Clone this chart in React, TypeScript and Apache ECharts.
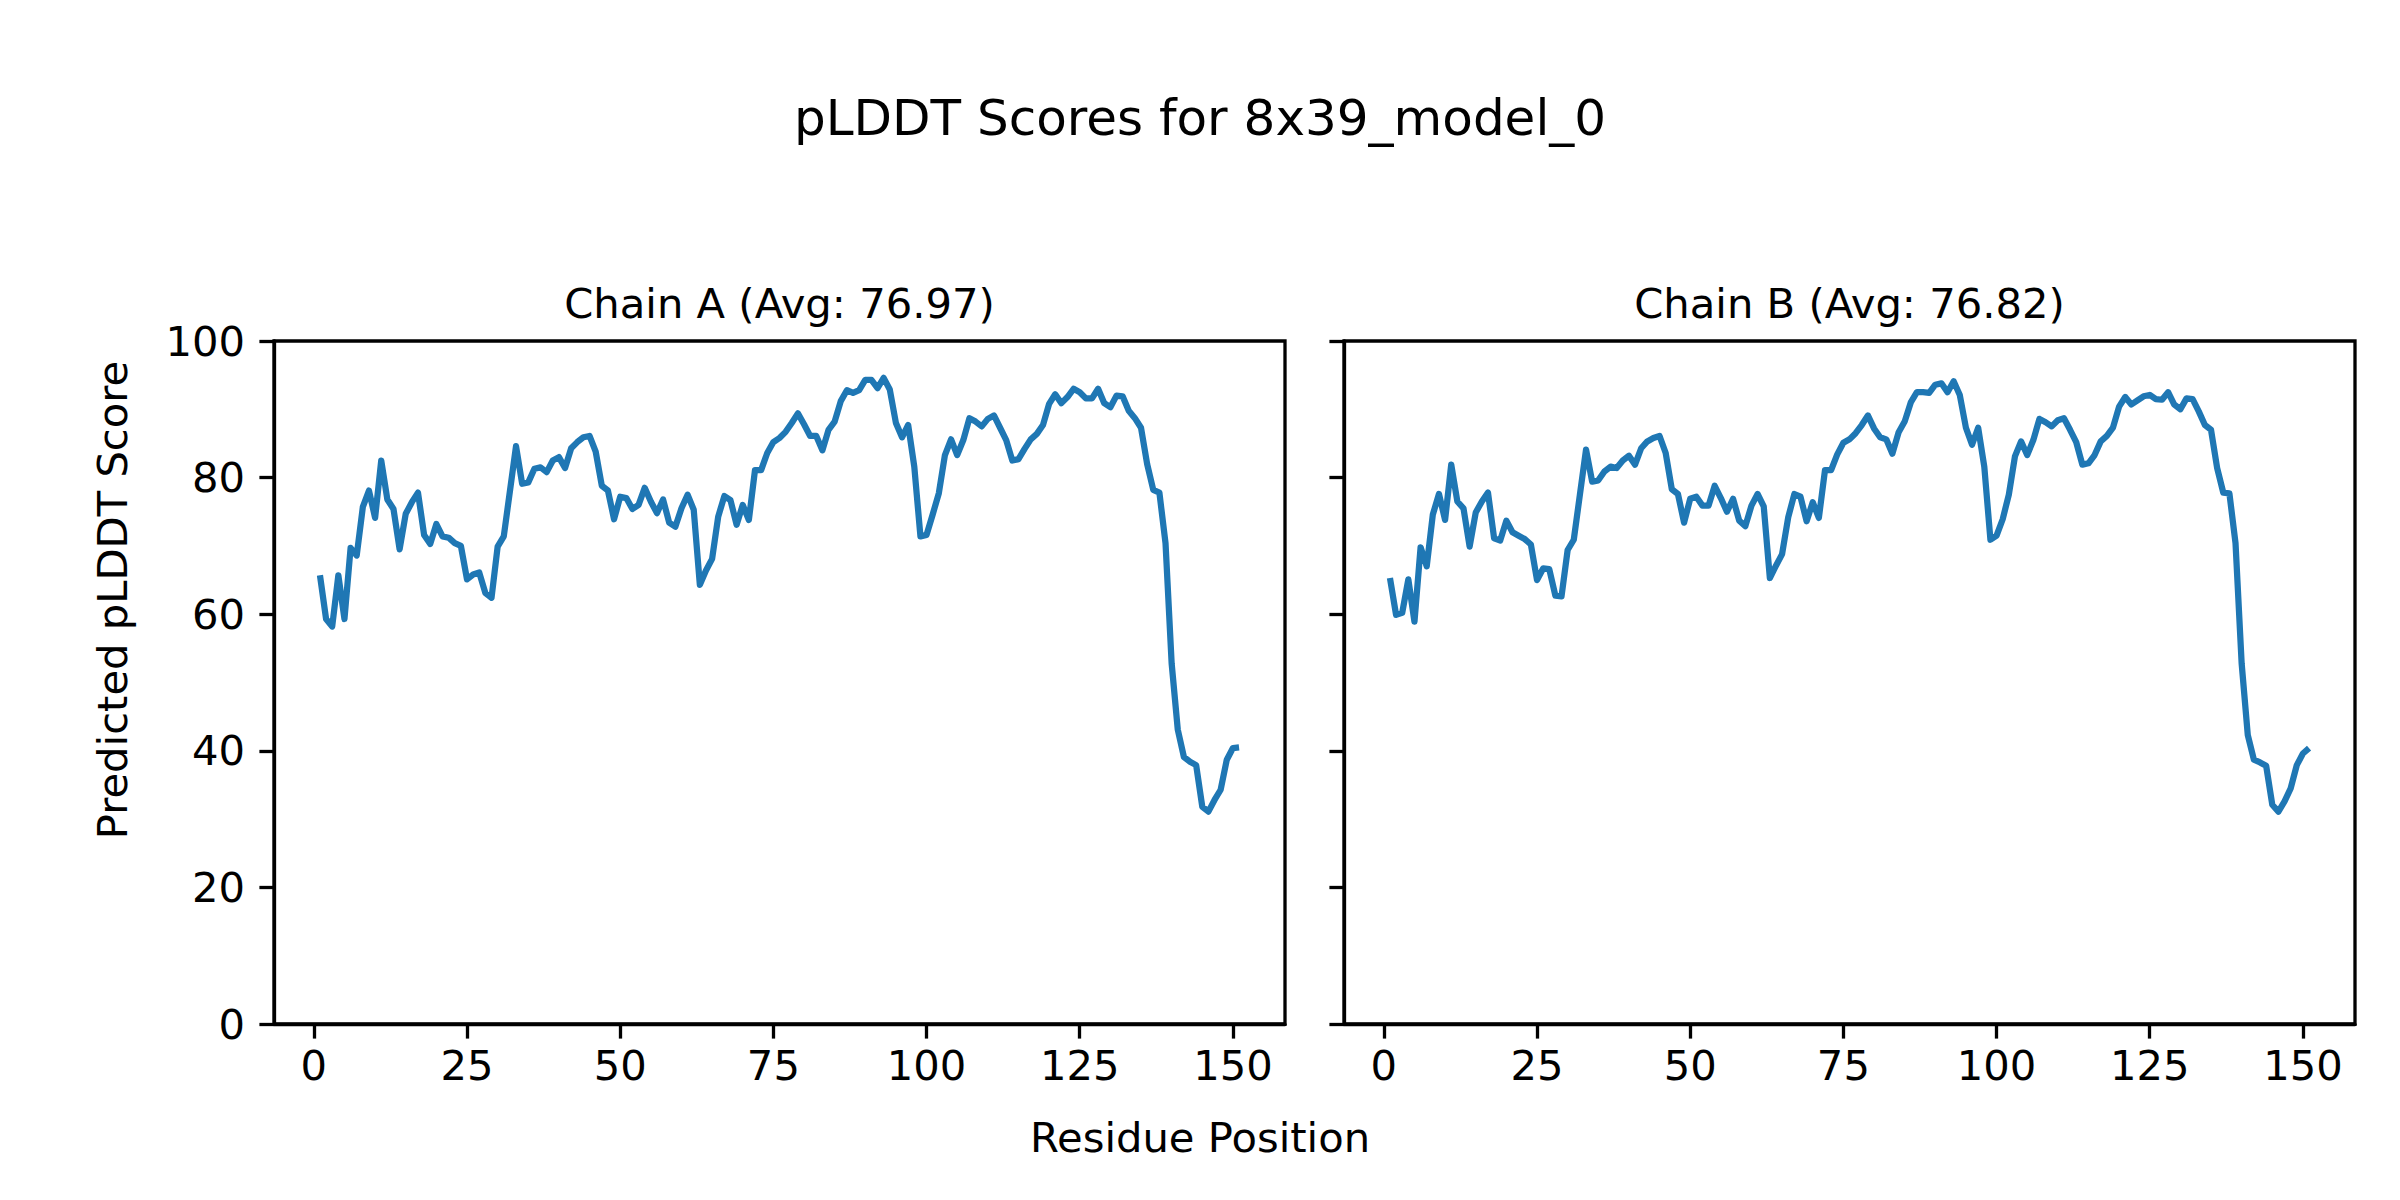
import React, { useEffect, useRef } from "react";
import * as echarts from "echarts";

const chainA: number[] = [
  65.7, 59.3, 58.2, 65.7, 59.3, 69.7, 68.6, 75.7, 78.1, 74.1,
  82.5, 76.8, 75.4, 69.5, 74.7, 76.4, 77.8, 71.6, 70.3, 73.2,
  71.4, 71.2, 70.4, 70.0, 65.1, 65.8, 66.1, 63.1, 62.4, 69.9,
  71.4, 78.0, 84.6, 79.1, 79.3, 81.3, 81.5, 80.8, 82.5, 83.0,
  81.4, 84.3, 85.2, 85.9, 86.1, 83.8, 78.8, 78.1, 73.9, 77.2,
  77.0, 75.4, 76.0, 78.5, 76.5, 74.8, 76.8, 73.4, 72.8, 75.5,
  77.5, 75.3, 64.3, 66.4, 68.1, 74.3, 77.3, 76.7, 73.1, 76.0,
  73.8, 81.1, 81.1, 83.6, 85.2, 85.8, 86.7, 88.0, 89.4, 87.8,
  86.1, 86.1, 84.0, 87.0, 88.2, 91.2, 92.8, 92.4, 92.8, 94.3,
  94.3, 93.1, 94.6, 92.9, 88.0, 85.9, 87.7, 81.6, 71.4, 71.6,
  74.6, 77.7, 83.3, 85.6, 83.3, 85.5, 88.7, 88.2, 87.5, 88.6,
  89.1, 87.3, 85.5, 82.5, 82.7, 84.2, 85.6, 86.4, 87.7, 90.8,
  92.2, 90.9, 91.8, 93.0, 92.5, 91.6, 91.6, 93.0, 90.9, 90.3,
  92.0, 91.9, 89.8, 88.7, 87.3, 82.0, 78.2, 77.8, 70.4, 52.8,
  43.1, 39.1, 38.4, 37.9, 31.8, 31.1, 32.8, 34.3, 38.7, 40.4, 40.5,
];

const chainB: number[] = [
  65.3, 59.9, 60.2, 65.1, 58.9, 69.8, 67.0, 74.6, 77.6, 73.8,
  81.9, 76.5, 75.5, 69.9, 74.9, 76.5, 77.8, 71.1, 70.8, 73.7,
  72.0, 71.5, 71.0, 70.2, 65.0, 66.7, 66.6, 62.7, 62.6, 69.4,
  70.9, 77.5, 84.1, 79.4, 79.6, 80.9, 81.6, 81.4, 82.5, 83.2,
  81.9, 84.3, 85.3, 85.8, 86.1, 83.6, 78.3, 77.6, 73.4, 76.9,
  77.2, 75.9, 75.9, 78.8, 77.0, 75.0, 76.9, 73.7, 72.9, 75.9,
  77.6, 75.8, 65.3, 67.1, 68.8, 74.2, 77.6, 77.2, 73.6, 76.4,
  74.1, 81.1, 81.1, 83.4, 85.1, 85.6, 86.5, 87.7, 89.1, 87.2,
  85.9, 85.6, 83.5, 86.6, 88.2, 91.0, 92.5, 92.5, 92.4, 93.6,
  93.8, 92.5, 94.1, 92.1, 87.3, 84.8, 87.3, 81.6, 70.9, 71.5,
  73.9, 77.5, 83.1, 85.3, 83.3, 85.5, 88.6, 88.1, 87.5, 88.4,
  88.7, 87.0, 85.2, 81.9, 82.1, 83.3, 85.3, 86.1, 87.3, 90.4,
  91.8, 90.7, 91.3, 91.9, 92.1, 91.5, 91.4, 92.5, 90.7, 90.0,
  91.6, 91.5, 89.7, 87.7, 87.0, 81.4, 77.8, 77.7, 70.4, 52.8,
  42.3, 38.7, 38.3, 37.8, 32.1, 31.1, 32.6, 34.5, 37.9, 39.6, 40.4,
];

const xTicks: number[] = [0, 25, 50, 75, 100, 125, 150];
const yTicks: number[] = [0, 20, 40, 60, 80, 100];

const mainTitle = "pLDDT Scores for 8x39_model_0";
const subTitles: string[] = ["Chain A (Avg: 76.97)", "Chain B (Avg: 76.82)"];
const xLabel = "Residue Position";
const yLabel = "Predicted pLDDT Score";

const FONT = "DejaVu Sans";
const FS = 41.7;
const LINE_COLOR = "#1f77b4";

function toPoints(values: number[]): number[][] {
  return values.map((v, i) => [i + 1, v]);
}

export default function App() {
  const ref = useRef<HTMLDivElement | null>(null);

  useEffect(() => {
    if (!ref.current) return;
    const chart = echarts.init(ref.current, undefined, { renderer: "svg" });

    const grids = [
      { left: 274, top: 341, width: 1011, height: 683 },
      { left: 1344, top: 341, width: 1011, height: 683 },
    ];

    const xAxisBase = (gi: number) => ({
      type: "value",
      gridIndex: gi,
      min: -6.5,
      max: 158.5,
      splitLine: { show: false },
      axisLine: { show: true, onZero: false, lineStyle: { color: "#000", width: 3.3 } },
      axisTick: {
        show: true,
        length: 14.6,
        lineStyle: { color: "#000", width: 3.3 },
        customValues: xTicks,
      },
      axisLabel: {
        show: true,
        color: "#000",
        fontFamily: FONT,
        fontSize: FS,
        margin: 20,
        customValues: xTicks,
      },
    });

    const yAxisBase = (gi: number, showLabels: boolean) => ({
      type: "value",
      gridIndex: gi,
      min: 0,
      max: 100,
      interval: 20,
      splitLine: { show: false },
      axisLine: { show: true, onZero: false, lineStyle: { color: "#000", width: 3.3 } },
      axisTick: {
        show: true,
        length: 14.6,
        lineStyle: { color: "#000", width: 3.3 },
        customValues: yTicks,
      },
      axisLabel: {
        show: showLabels,
        color: "#000",
        fontFamily: FONT,
        fontSize: FS,
        margin: 29,
        customValues: yTicks,
      },
    });

    const option: any = {
      animation: false,
      backgroundColor: "#fff",
      grid: grids.map((g) => ({
        ...g,
        show: true,
        borderColor: "#000",
        borderWidth: 3.3,
        backgroundColor: "transparent",
        containLabel: false,
      })),
      xAxis: [xAxisBase(0), xAxisBase(1)],
      yAxis: [yAxisBase(0, true), yAxisBase(1, false)],
      series: [
        {
          type: "line",
          xAxisIndex: 0,
          yAxisIndex: 0,
          data: toPoints(chainA),
          showSymbol: false,
          symbol: "none",
          lineStyle: { color: LINE_COLOR, width: 6.25, join: "round", cap: "butt" },
          itemStyle: { color: LINE_COLOR },
        },
        {
          type: "line",
          xAxisIndex: 1,
          yAxisIndex: 1,
          data: toPoints(chainB),
          showSymbol: false,
          symbol: "none",
          lineStyle: { color: LINE_COLOR, width: 6.25, join: "round", cap: "butt" },
          itemStyle: { color: LINE_COLOR },
        },
      ],
      graphic: [
        {
          type: "text",
          x: 1200,
          y: 118,
          style: {
            text: mainTitle,
            fill: "#000",
            font: `50px "${FONT}"`,
            align: "center",
            verticalAlign: "middle",
          },
        },
        {
          type: "text",
          x: 779.5,
          y: 303,
          style: {
            text: subTitles[0],
            fill: "#000",
            font: `${FS}px "${FONT}"`,
            align: "center",
            verticalAlign: "middle",
          },
        },
        {
          type: "text",
          x: 1849.5,
          y: 303,
          style: {
            text: subTitles[1],
            fill: "#000",
            font: `${FS}px "${FONT}"`,
            align: "center",
            verticalAlign: "middle",
          },
        },
        {
          type: "text",
          x: 1200,
          y: 1137,
          style: {
            text: xLabel,
            fill: "#000",
            font: `${FS}px "${FONT}"`,
            align: "center",
            verticalAlign: "middle",
          },
        },
        {
          type: "text",
          x: 112,
          y: 600,
          rotation: Math.PI / 2,
          style: {
            text: yLabel,
            fill: "#000",
            font: `${FS}px "${FONT}"`,
            align: "center",
            verticalAlign: "middle",
          },
        },
      ],
    };

    chart.setOption(option);
    return () => {
      chart.dispose();
    };
  }, []);

  return (
    <div
      ref={ref}
      style={{
        position: "absolute",
        left: 0,
        top: 0,
        width: 2400,
        height: 1200,
        background: "#fff",
      }}
    />
  );
}
